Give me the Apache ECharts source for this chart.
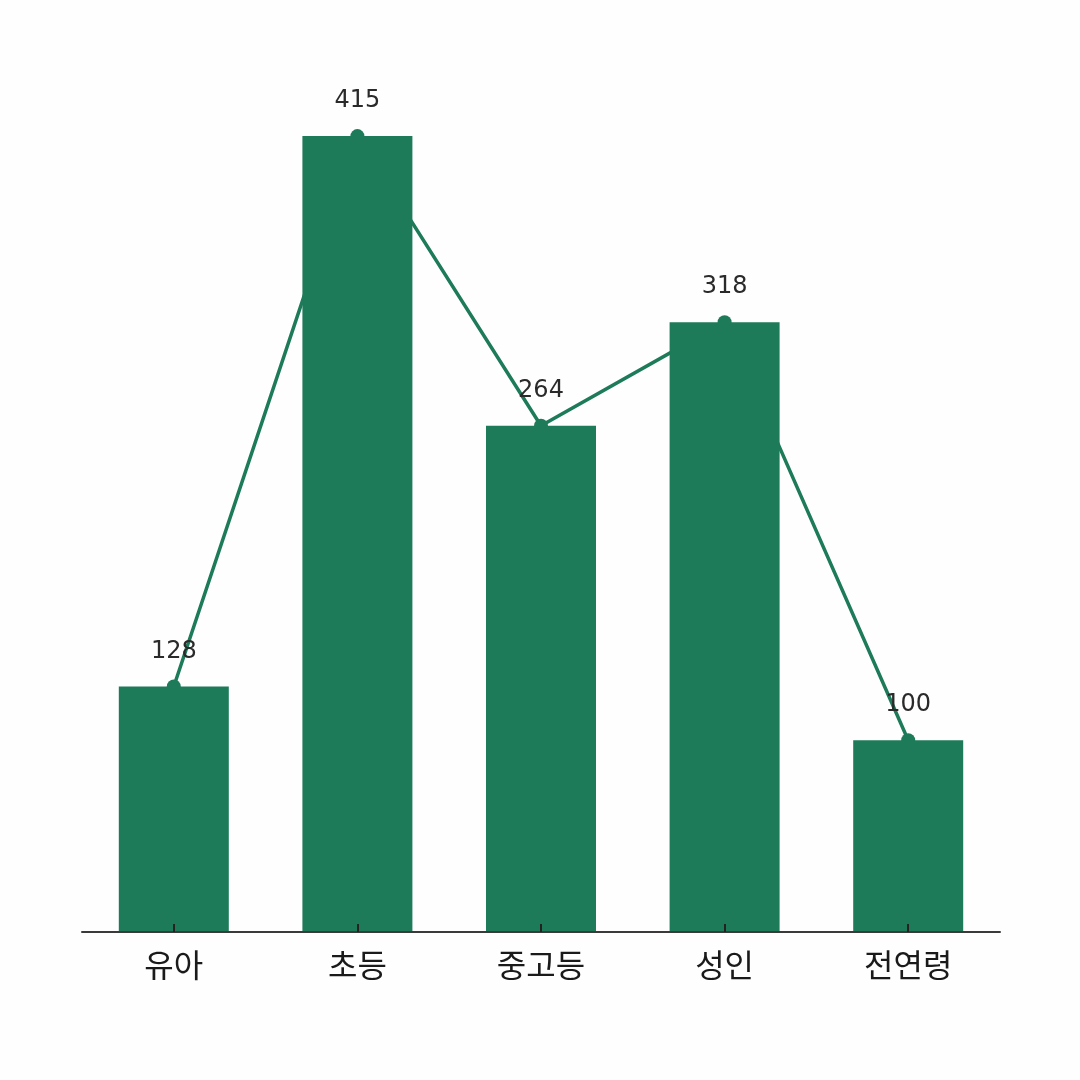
<!DOCTYPE html>
<html>
<head>
<meta charset="utf-8">
<script src="https://cdn.jsdelivr.net/npm/echarts@6/dist/echarts.min.js"></script>
<style>
html,body{margin:0;padding:0;background:#fefefe;}
#c{width:1080px;height:1080px;}
</style>
</head>
<body>
<div id="c"></div>
<script>
const categories = ['유아', '초등', '중고등', '성인', '전연령'];
const barValues = [128, 415, 264, 318, 100];
const lineValues = [128, 415, 264, 318, 100];

const green = '#1e7b5a';
const chart = echarts.init(document.getElementById('c'));
chart.setOption({
  backgroundColor: '#fefefe',
  animation: false,
  grid: { left: 82, right: 80, top: 69, bottom: 148 },
  xAxis: {
    type: 'category',
    data: categories,
    boundaryGap: true,
    zlevel: 1,
    z: 10,
    axisLine: { lineStyle: { color: '#3a3a3a', width: 2 } },
    axisTick: { show: true, alignWithLabel: true, inside: true, length: 8, lineStyle: { color: '#222', width: 2 } },
    axisLabel: { fontSize: 32, color: '#1a1a1a', margin: 17, fontFamily: 'Noto Sans CJK KR' }
  },
  yAxis: {
    type: 'value',
    min: 0,
    max: 450,
    show: false,
    splitLine: { show: false }
  },
  series: [
    {
      type: 'line',
      data: lineValues,
      z: 1,
      symbol: 'circle',
      symbolSize: 14,
      lineStyle: { color: green, width: 3.5 },
      itemStyle: { color: green },
      label: {
        show: true,
        position: 'top',
        distance: 16,
        fontSize: 24,
        color: '#2a2a2a',
        fontFamily: 'DejaVu Sans'
      }
    },
    {
      type: 'bar',
      data: barValues,
      z: 2,
      barWidth: 110,
      itemStyle: { color: green }
    }
  ]
});
</script>
</body>
</html>
